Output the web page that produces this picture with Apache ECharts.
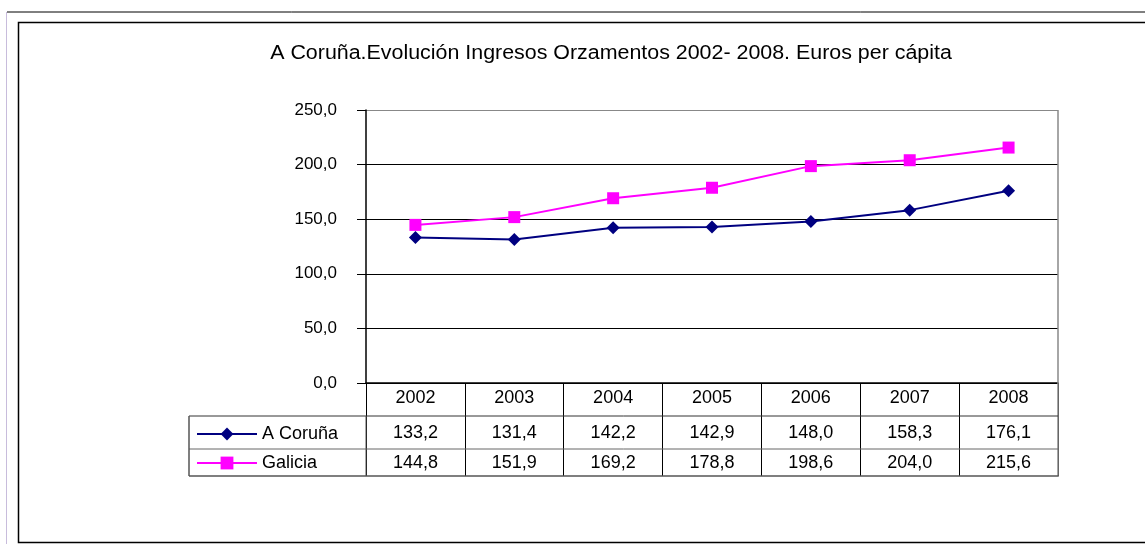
<!DOCTYPE html>
<html><head><meta charset="utf-8">
<script src="https://cdn.jsdelivr.net/npm/echarts@6/dist/echarts.min.js"></script>
<style>html,body{margin:0;padding:0;background:#fff}#c{width:1145px;height:544px}</style>
</head><body><div id="c"></div>
<script>
const titleText = 'A Coruña.Evolución Ingresos Orzamentos 2002- 2008. Euros per cápita';
const years = ['2002','2003','2004','2005','2006','2007','2008'];
const corunaName = 'A Coruña';
const galiciaName = 'Galicia';
const coruna = [133.2, 131.4, 142.2, 142.9, 148.0, 158.3, 176.1];
const galicia = [144.8, 151.9, 169.2, 178.8, 198.6, 204.0, 215.6];
const yTicks = [0, 50, 100, 150, 200, 250];

const FONT = '"Liberation Sans", Arial, sans-serif';
const fmt = v => Number(v).toFixed(1).replace('.', ',');

// layout constants
const G = {left: 366, right: 1058, top: 110, bottom: 383};
const ROW = [383, 416, 449, 476];
const TABLE_LEFT = 189;
const TF = 18; // table font size

const chart = echarts.init(document.getElementById('c'), null, {renderer: 'canvas'});

function hline(x1, x2, y, color, w) {
  return {type: 'line', shape: {x1, y1: y, x2, y2: y}, style: {stroke: color, lineWidth: w || 1}, z: 10, silent: true};
}
function vline(x, y1, y2, color, w) {
  return {type: 'line', shape: {x1: x, y1, x2: x, y2}, style: {stroke: color, lineWidth: w || 1}, z: 10, silent: true};
}

const option = {
  backgroundColor: '#fff',
  animation: false,
  legend: {
    orient: 'vertical',
    left: 196, top: 425, padding: 0,
    itemWidth: 60, itemHeight: 16, itemGap: 11,
    textStyle: {fontFamily: FONT, fontSize: TF, color: '#000'},
    data: [corunaName, galiciaName]
  },
  grid: {left: G.left, right: 1145 - G.right, top: G.top, bottom: 544 - G.bottom, containLabel: false},
  xAxis: [
    {
      type: 'category', data: years, position: 'bottom', boundaryGap: true,
      axisLine: {show: true, lineStyle: {color: '#000', width: 1.5}},
      axisTick: {show: true, interval: 0, length: ROW[3] - ROW[0], lineStyle: {color: '#000', width: 1}},
      axisLabel: {interval: 0, margin: 6, fontFamily: FONT, fontSize: TF, color: '#000'},
      splitLine: {show: false}
    },
    {
      type: 'category', data: years, position: 'bottom', offset: ROW[1] - ROW[0],
      axisLine: {show: false}, axisTick: {show: false},
      axisLabel: {interval: 0, margin: 8, fontFamily: FONT, fontSize: TF, color: '#000',
        formatter: (v, i) => fmt(coruna[i])}
    },
    {
      type: 'category', data: years, position: 'bottom', offset: ROW[2] - ROW[0],
      axisLine: {show: false}, axisTick: {show: false},
      axisLabel: {interval: 0, margin: 5, fontFamily: FONT, fontSize: TF, color: '#000',
        formatter: (v, i) => fmt(galicia[i])}
    }
  ],
  yAxis: {
    type: 'value', min: yTicks[0], max: yTicks[yTicks.length - 1], interval: yTicks[1] - yTicks[0],
    axisLine: {show: true, lineStyle: {color: '#000', width: 1.5}},
    axisTick: {show: true, length: 9, lineStyle: {color: '#000'}},
    axisLabel: {margin: 29, fontFamily: FONT, fontSize: 17, color: '#000', formatter: v => fmt(v)},
    splitLine: {show: true, lineStyle: {color: ['#000', '#000', '#000', '#000', '#000', '#888'], width: 1}}
  },
  series: [
    {
      name: corunaName, type: 'line', data: coruna, xAxisIndex: 0,
      symbol: 'diamond', symbolSize: 13,
      lineStyle: {color: '#000080', width: 2},
      itemStyle: {color: '#000080'}
    },
    {
      name: galiciaName, type: 'line', data: galicia, xAxisIndex: 0,
      symbol: 'rect', symbolSize: 12,
      lineStyle: {color: '#FF00FF', width: 2},
      itemStyle: {color: '#FF00FF'}
    }
  ],
  graphic: [
    // outer frames
    hline(7, 1145, 12, '#000', 1),
    vline(6.5, 12, 544, '#c8bcdc', 1),
    {type: 'rect', shape: {x: 18.5, y: 22.5, width: 1200, height: 520}, style: {fill: null, stroke: '#000', lineWidth: 1.5}, z: 10, silent: true},
    // title
    {type: 'text', x: 611, y: 53, scaleX: 1.07, silent: true, z: 10,
      style: {text: titleText, font: '20px ' + FONT, fill: '#000', textAlign: 'center', textVerticalAlign: 'middle'}},
    // plot border right side
    vline(G.right, G.top, ROW[3], '#888', 1.5),
    // data table rows
    hline(TABLE_LEFT, G.right, ROW[1], '#333', 1),
    hline(TABLE_LEFT, G.right, ROW[2], '#666', 1),
    hline(TABLE_LEFT, G.right + 0.75, ROW[3], '#555', 1.5),
    vline(TABLE_LEFT, ROW[1], ROW[3], '#555', 1.5),
    vline(G.left, ROW[1], ROW[3], '#555', 1)
  ]
};
chart.setOption(option);
</script>
</body></html>
